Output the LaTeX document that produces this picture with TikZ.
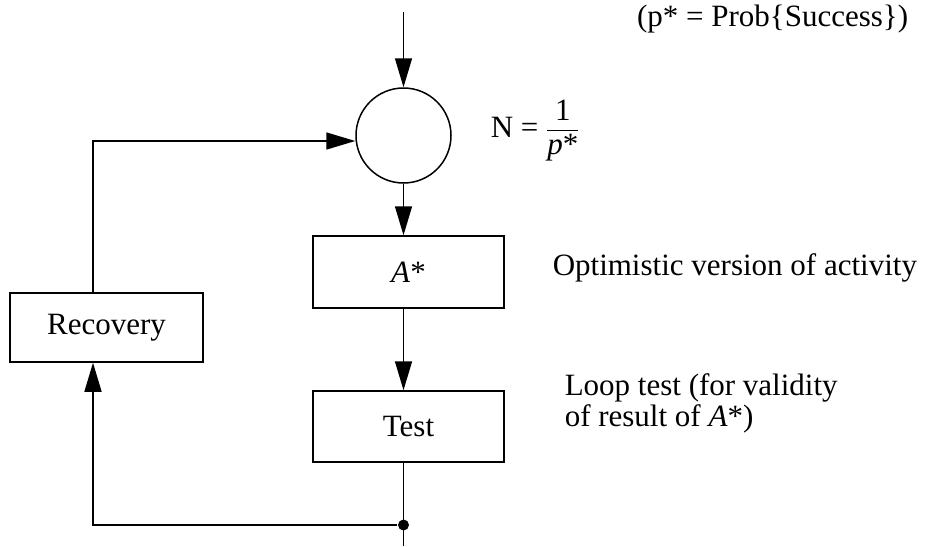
\documentclass[tikz,border=0pt]{standalone}
\usepackage{amsmath}
\usepackage{fontspec}
\setmainfont{Liberation Serif}
\usetikzlibrary{arrows.meta}
\tikzset{
  arr/.style={-{Triangle[length=29pt,width=17pt]}},
  blk/.style={draw,rectangle,minimum width=191pt,minimum height=71pt,inner sep=0pt},
  dot/.style={circle,fill,inner sep=0pt,minimum size=11pt}
}
\begin{document}
\begin{tikzpicture}[x=1pt,y=-1pt,line width=1.5pt,font=\fontsize{31}{31}\selectfont]
    \useasboundingbox (0,0) rectangle (925,546);
    \coordinate (in) at (403.5,12);
    \coordinate (out) at (403.5,546);
    \coordinate (up) at (93,141);
    \node[draw,circle,minimum size=95pt,inner sep=0pt] (circ) at (403.5,135.5) {};
    \node[blk,minimum height=72pt] (astar) at (408.5,272) {\textit{A}*\hspace{11pt}};
    \node[blk] (test) at (408.5,426.5) {Test\hspace{32pt}};
    \node[blk,minimum width=193pt,minimum height=69pt] (rec) at (106.5,327.5) {Recovery\hspace{23pt}};
    \node[dot] (jn) at (403.5,525) {};
    \draw[arr] (in) -- (circ.north);
    \draw[arr] (circ.south) -- (circ.south |- astar.north);
    \draw[arr] (circ.south |- astar.south) -- (circ.south |- test.north);
    \draw (circ.south |- test.south) -- (out);
    \draw[arr] (up |- rec.north) -- (up) -- (up -| circ.west);
    \draw[arr] (jn) -- (jn -| up) -- (up |- rec.south);
    \node[anchor=base west] (prob) at (633,27) {(p* = Prob\{Success\})};
    \node[anchor=base west,inner sep=0pt] (nlab) at (490,137) {N = $\dfrac{\mbox{1}}{\mbox{\itshape p\upshape*}}$};
    \node[anchor=base west,inner sep=0pt] (opt) at (552,275) {Optimistic version of activity};
    \node[anchor=base west,align=left,inner sep=0pt] (loop) at (564,426) {Loop test (for validity\\of result of \textit{A}*)};
\end{tikzpicture}
\end{document}
